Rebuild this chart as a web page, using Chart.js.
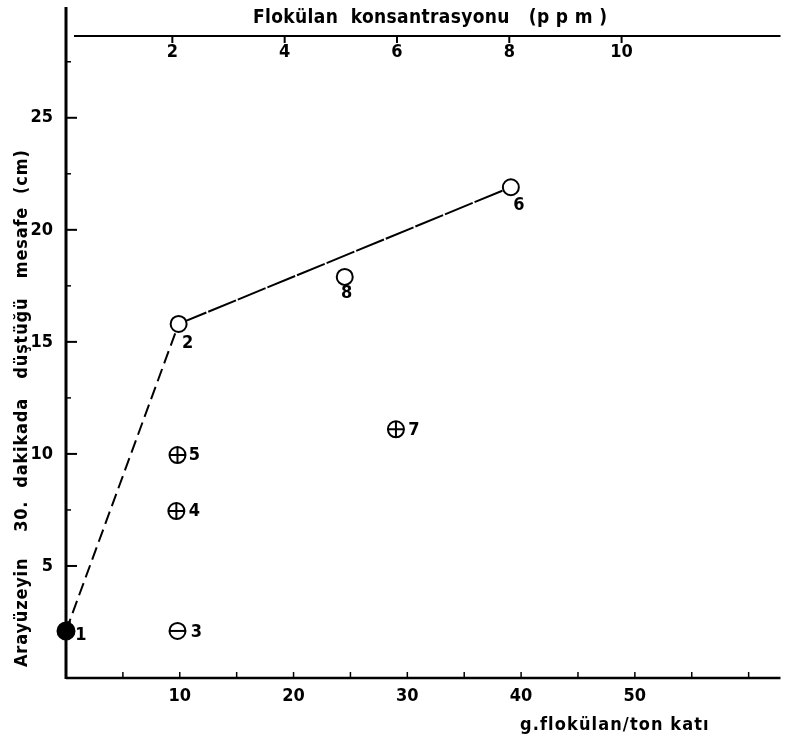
<!DOCTYPE html>
<html lang="tr">
<head>
<meta charset="utf-8">
<title>Flokülan konsantrasyonu</title>
<script src="https://cdn.jsdelivr.net/npm/chart.js@4"></script>
<style>
  html, body { margin: 0; padding: 0; background: #fff; }
  #kutu { width: 791px; height: 740px; }
</style>
</head>
<body>
<div id="kutu"><canvas id="grafik" width="791" height="740"></canvas></div>
<script>
// Deney numaraları ve
const deneyNo = ['1', '2', '3', '4', '5', '6', '7', '8'];
const flokulanGTon = [0, 9.9, 9.8, 9.7, 9.8, 39.1, 29.0, 24.5];   // g flokülan / ton katı
const mesafeCm = [2.1, 15.8, 2.1, 7.45, 9.95, 21.9, 11.1, 17.9];  // 30. dakikada düşülen mesafe
const isaret = ['dolu', 'acik', 'eksi', 'arti', 'arti', 'acik', 'arti', 'acik'];

// çizgilerle birleştirilen deneyler
const kesikliCizgi = [0, 1];
const duzCizgi = [1, 5];

// eksen etiketleri
const mesafeEtiket = [5, 10, 15, 20, 25];
const mesafeAra = [2.5, 7.5, 12.5, 17.5, 22.5, 27.5];
const gTonEtiket = [10, 20, 30, 40, 50];
const gTonAra = [5, 15, 25, 35, 45, 55, 60];
const ppmEtiket = [2, 4, 6, 8, 10];

const YAZI = "'Liberation Sans Narrow', 'DejaVu Sans Condensed', 'DejaVu Sans', sans-serif";
const BASLIK = "'DejaVu Sans Condensed', 'DejaVu Sans', sans-serif";
const noktalar = idx => idx.map(i => ({ x: flokulanGTon[i], y: mesafeCm[i] }));
const secim = tip => isaret.map((t, i) => t === tip ? i : -1).filter(i => i >= 0);

// numara yazılarının noktaya göre kayması (px)
const numaraKayma = [[15, 4], [9, 19], [19, 1], [18, 0], [17, 0], [8, 18], [18, 1], [2, 16]];

function sigdir(ctx, metin, genislik) {
  ctx.letterSpacing = '0px';
  const w = ctx.measureText(metin).width;
  const n = [...metin].length;
  ctx.letterSpacing = ((genislik - w) / (n - 1)).toFixed(2) + 'px';
}

const eksenler = {
  id: 'eksenler',
  beforeDatasetsDraw(chart) {
    const { ctx, chartArea: a, scales } = chart;
    ctx.save();
    ctx.strokeStyle = '#000';
    // sol eksen
    ctx.lineWidth = 3;
    ctx.beginPath(); ctx.moveTo(a.left, 7); ctx.lineTo(a.left, a.bottom + 1); ctx.stroke();
    // alt eksen
    ctx.lineWidth = 2.5;
    ctx.beginPath(); ctx.moveTo(a.left, a.bottom); ctx.lineTo(a.right, a.bottom); ctx.stroke();
    // üst eksen
    ctx.lineWidth = 2;
    ctx.beginPath(); ctx.moveTo(a.left + 8, a.top); ctx.lineTo(a.right, a.top); ctx.stroke();

    ctx.lineWidth = 2;
    const y = scales.y, x = scales.x, x2 = scales.x2;
    mesafeEtiket.forEach(v => { const p = y.getPixelForValue(v); ctx.beginPath(); ctx.moveTo(a.left, p); ctx.lineTo(a.left + 11, p); ctx.stroke(); });
    ctx.lineWidth = 1.5;
    mesafeAra.forEach(v => { const p = y.getPixelForValue(v); ctx.beginPath(); ctx.moveTo(a.left, p); ctx.lineTo(a.left + 5, p); ctx.stroke(); });
    gTonEtiket.concat(gTonAra).forEach(v => { const p = x.getPixelForValue(v); ctx.beginPath(); ctx.moveTo(p, a.bottom); ctx.lineTo(p, a.bottom - 6); ctx.stroke(); });
    ctx.lineWidth = 2;
    ppmEtiket.forEach(v => { const p = x2.getPixelForValue(v); ctx.beginPath(); ctx.moveTo(p, a.top); ctx.lineTo(p, a.top + 7); ctx.stroke(); });
    ctx.restore();
  },
  afterDraw(chart) {
    const { ctx, scales } = chart;
    ctx.save();
    ctx.fillStyle = '#000';
    ctx.textBaseline = 'middle';
    ctx.textAlign = 'left';

    // eksen başlıkları
    ctx.font = 'bold 19px ' + BASLIK;
    let t = 'Flokülan  konsantrasyonu   (p p m )';
    sigdir(ctx, t, 354);
    ctx.fillText(t, 253, 18);

    ctx.font = 'bold 18px ' + BASLIK;
    t = 'g.flokülan/ton katı';
    sigdir(ctx, t, 188);
    ctx.fillText(t, 520, 725);

    t = 'Arayüzeyin    30.  dakikada   düştüğü   mesafe  (cm)';
    ctx.save();
    ctx.translate(22, 667);
    ctx.rotate(-Math.PI / 2);
    sigdir(ctx, t, 517);
    ctx.fillText(t, 0, 0);
    ctx.restore();

    // deney numaraları
    ctx.letterSpacing = '0px';
    ctx.font = 'bold 18px ' + YAZI;
    ctx.textAlign = 'center';
    deneyNo.forEach((n, i) => {
      const px = scales.x.getPixelForValue(flokulanGTon[i]) + numaraKayma[i][0];
      const py = scales.y.getPixelForValue(mesafeCm[i]) + numaraKayma[i][1];
      ctx.fillText(n, px, py);
    });
    ctx.restore();
  }
};

const tikYazi = { color: '#000', font: { family: YAZI, size: 18, weight: 'bold' } };
const isaretOrtak = { pointRadius: 8, borderColor: '#000', borderWidth: 2, clip: false };

new Chart(document.getElementById('grafik').getContext('2d'), {
  type: 'scatter',
  data: {
    datasets: [
      { type: 'line', data: noktalar(kesikliCizgi), borderColor: '#000', borderWidth: 2, borderDash: [13, 6], pointRadius: 0, order: 10 },
      { type: 'line', data: noktalar(duzCizgi), borderColor: '#000', borderWidth: 2, borderDash: [30, 2], pointRadius: 0, order: 10 },
      { ...isaretOrtak, data: noktalar(secim('dolu')), pointStyle: 'circle', pointRadius: 8.5, backgroundColor: '#000', order: 1 },
      { ...isaretOrtak, data: noktalar(secim('acik')), pointStyle: 'circle', backgroundColor: '#fff', order: 2 },
      { ...isaretOrtak, data: noktalar(secim('arti').concat(secim('eksi'))), pointStyle: 'circle', backgroundColor: '#fff', order: 3 },
      { ...isaretOrtak, data: noktalar(secim('arti')), pointStyle: 'cross', order: 0 },
      { ...isaretOrtak, data: noktalar(secim('eksi')), pointStyle: 'line', order: 0 }
    ]
  },
  options: {
    responsive: false,
    animation: false,
    events: [],
    layout: { padding: { right: 6 } },
    plugins: { legend: { display: false }, tooltip: { enabled: false } },
    scales: {
      x: {
        type: 'linear', position: 'bottom', min: 0, max: 62.8,
        afterBuildTicks: s => { s.ticks = gTonEtiket.map(v => ({ value: v })); },
        afterFit: s => { s.height = 62; },
        grid: { display: false, drawTicks: false }, border: { display: false },
        ticks: { ...tikYazi, padding: 8, maxRotation: 0, autoSkip: false }
      },
      x2: {
        type: 'linear', position: 'top', min: 0.106, max: 12.83,
        afterBuildTicks: s => { s.ticks = ppmEtiket.map(v => ({ value: v })); },
        afterFit: s => { s.height = 36; },
        grid: { display: false, drawTicks: false }, border: { display: false },
        ticks: { ...tikYazi, mirror: true, padding: 6, maxRotation: 0, autoSkip: false }
      },
      y: {
        type: 'linear', min: 0, max: 28.65,
        afterBuildTicks: s => { s.ticks = mesafeEtiket.map(v => ({ value: v })); },
        afterFit: s => { s.width = 66; },
        grid: { display: false, drawTicks: false }, border: { display: false },
        ticks: { ...tikYazi, padding: 13 }
      }
    }
  },
  plugins: [eksenler]
});
</script>
</body>
</html>
